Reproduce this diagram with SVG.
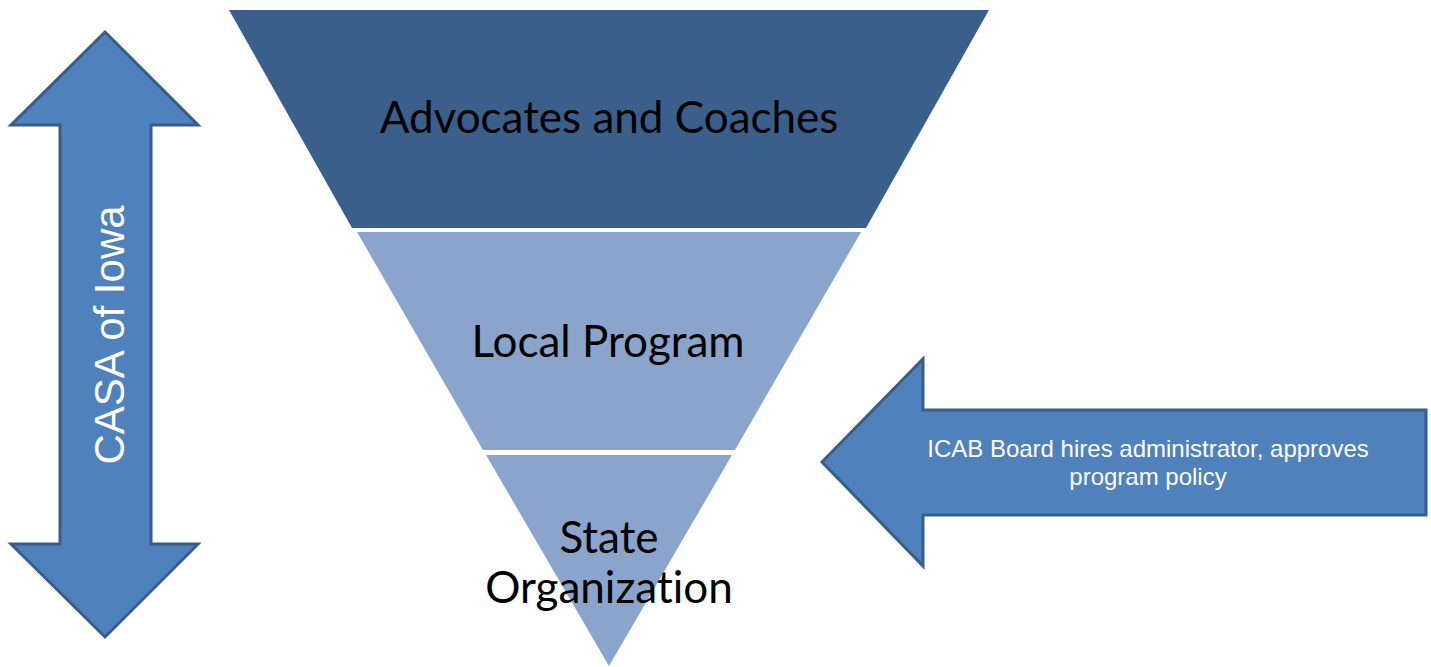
<svg xmlns="http://www.w3.org/2000/svg" width="1431" height="667" viewBox="0 0 1431 667">
<style>
.arrow{fill:#4F81BD;stroke:#385D8A;stroke-width:3;stroke-linejoin:miter}
.seg-dark{fill:#3A5F8B}
.seg-light{fill:#8AA4CB}
.lbl{font-family:Lato,"Open Sans","Liberation Sans",sans-serif;fill:#000;text-anchor:middle;font-variant-ligatures:none;font-feature-settings:"liga" 0}
.wlbl{font-family:"Liberation Sans",Arial,sans-serif;fill:#FFFFFF;text-anchor:middle}
</style>
<rect width="1431" height="667" fill="#FFFFFF"/>
<g id="connectors">
<g id="casa-arrow">
<path class="arrow" d="M105,32 L198,125 L151,125 L151,544 L198,544 L105,637 L11,544 L60,544 L60,125 L11,125 Z"/>
<text class="wlbl" font-size="42" transform="translate(124,335) rotate(-90)">CASA of Iowa</text>
</g>
<g id="icab-arrow">
<path class="arrow" d="M822,462 L923,359 L923,410 L1426,410 L1426,515 L923,515 L923,566 Z"/>
<text class="wlbl" font-size="24"><tspan x="1148" y="457">ICAB Board hires administrator, approves</tspan><tspan x="1148" y="485">program policy</tspan></text>
</g>
</g>
<g id="advocates">
<polygon class="seg-dark" points="229,10 989,10 866,228 352,228"/>
<text class="lbl" font-size="44" x="609" y="133">Advocates and Coaches</text>
</g>
<g id="local">
<polygon class="seg-light" points="357,232 861,232 735,450 483,450"/>
<text class="lbl" font-size="44" x="608" y="357">Local Program</text>
</g>
<g id="state">
<polygon class="seg-light" points="486,455 732,455 609,666"/>
<text class="lbl" font-size="44"><tspan x="609" y="553">State</tspan><tspan x="609" y="603">Organization</tspan></text>
</g>
</svg>
